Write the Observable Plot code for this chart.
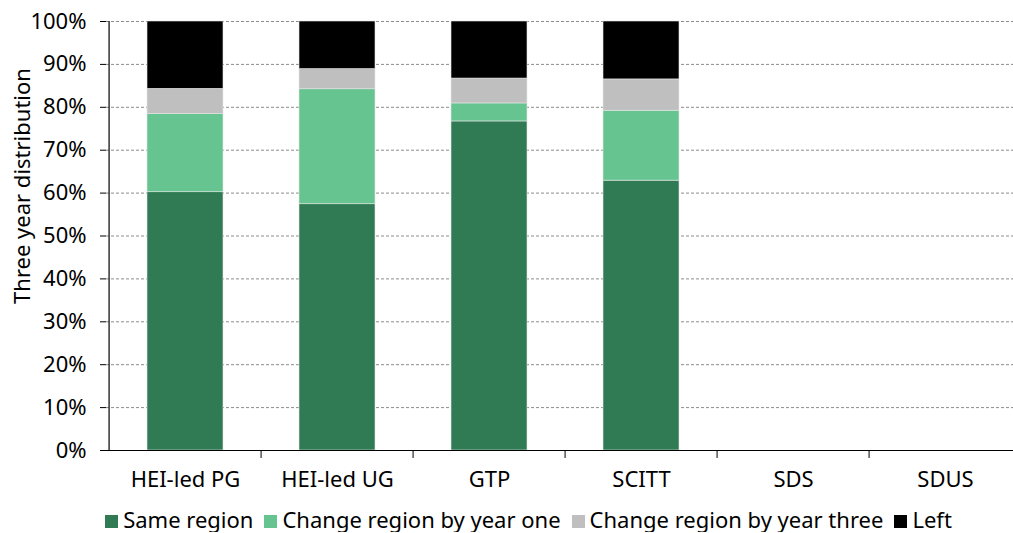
<!DOCTYPE html>
<html><head><meta charset="utf-8">
<script src="https://cdn.jsdelivr.net/npm/d3@7"></script>
<script src="https://cdn.jsdelivr.net/npm/@observablehq/plot@0.6"></script>
<style>
body{margin:0;background:#fff;font-family:"Noto Sans",sans-serif;}
#legend{display:flex;justify-content:center;gap:11px;font-size:22px;line-height:26px;margin-top:6px;padding-left:44px;}
#legend span.sw{display:inline-block;width:13px;height:13px;margin-right:5px;vertical-align:0px;}
</style></head><body>
<div id="chart"></div>
<div id="legend"></div>
<script>
const categories = ["HEI-led PG","HEI-led UG","GTP","SCITT","SDS","SDUS"];
const seriesNames = ["Same region","Change region by year one","Change region by year three","Left"];
const colors = ["#307B53","#66C491","#BFBFBF","#000000"];
const sameRegion = [60.2, 57.4, 76.7, 62.9, null, null];
const changeYearOne = [18.2, 26.8, 4.2, 16.3, null, null];
const changeYearThree = [5.9, 4.7, 5.8, 7.3, null, null];
const left = [15.7, 11.1, 13.3, 13.5, null, null];
const yTicks = [0,10,20,30,40,50,60,70,80,90,100];

const seriesVals = [sameRegion, changeYearOne, changeYearThree, left];
const data = [];
categories.forEach((c,i)=>seriesNames.forEach((s,j)=>{
  if (seriesVals[j][i] != null) data.push({cat:c, series:s, value:seriesVals[j][i]});
}));

const W = 1013, xr = [106, 1023];
const step = (xr[1]-xr[0])/categories.length;
const chart = Plot.plot({
  width: W, height: 500,
  marginLeft: 106, marginTop: 21, marginBottom: 50, marginRight: 0,
  style:{fontFamily:'"Noto Sans",sans-serif', fontSize:"18px", color:"#000", background:"#fff"},
  x:{domain:categories, range:xr, paddingInner:0.5, paddingOuter:0.25, label:null},
  y:{domain:[0,100], label:null},
  color:{domain:seriesNames, range:colors},
  marks:[
    Plot.ruleY(yTicks.filter(d=>d>0), {stroke:"#8c8c8c", strokeDasharray:"3,2", strokeWidth:1}),
    Plot.barY(data, Plot.stackY({x:"cat", y:"value", fill:"series", order:seriesNames, stroke:"#e6e6e6", strokeWidth:0.6})),
    Plot.axisY({ticks:yTicks, tickFormat:d=>d+"%", tickSize:6, tickPadding:14, fontSize:22, label:null}),
    Plot.ruleX([0], {y1:0, y2:100, x:()=>categories[0], dx:-step/2, stroke:"#000", strokeWidth:1.2}),
    Plot.ruleY([0], {stroke:"#000", strokeWidth:1.2}),
    Plot.axisX({tickSize:0, tickPadding:21, fontSize:22, label:null}),
    Plot.ruleX(categories.slice(1), {x:d=>d, y1:0, y2:0, dx:-step/2, insetBottom:-8, stroke:"#000"}),
    Plot.text(["Three year distribution"], {frameAnchor:"left", textAnchor:"middle", dx:-84, dy:-50, rotate:-90, fontSize:22, text:d=>d})
  ]
});
document.getElementById("chart").appendChild(chart);
const lg = document.getElementById("legend");
seriesNames.forEach((s,i)=>{
  const d = document.createElement("div");
  d.innerHTML = `<span class="sw" style="background:${colors[i]}"></span>${s}`;
  lg.appendChild(d);
});
</script>
</body></html>
